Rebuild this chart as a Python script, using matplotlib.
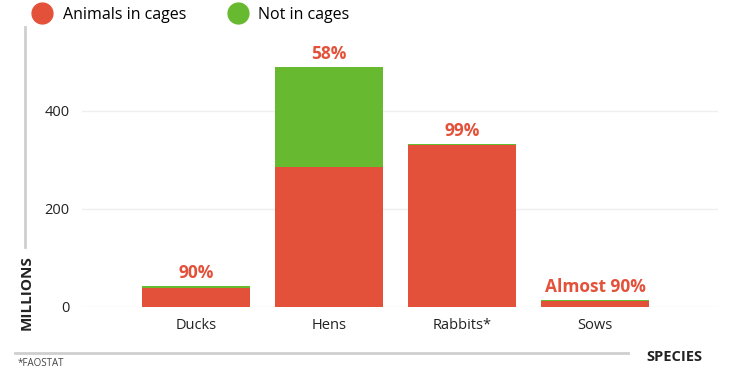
import matplotlib
matplotlib.use("Agg")
import matplotlib.pyplot as plt
from matplotlib.lines import Line2D

plt.rcParams['font.family'] = ['Open Sans', 'DejaVu Sans']

# data (millions)
species = ['Ducks', 'Hens', 'Rabbits*', 'Sows']
caged = [39, 285, 330, 12]
not_caged = [4, 205, 3, 2]
pct_labels = ['90%', '58%', '99%', 'Almost 90%']

red = '#e4513a'
green = '#67b930'
gray = '#cfcfcf'

fig = plt.figure(figsize=(7.3, 3.7), dpi=100)
ax = fig.add_axes([82/730, 63/370, 636/730, 260/370])

x = range(len(species))
ax.bar(x, caged, width=0.81, color=red, zorder=2)
ax.bar(x, not_caged, width=0.81, bottom=caged, color=green, zorder=2)

for i, lab in enumerate(pct_labels):
    total = caged[i] + not_caged[i]
    ax.text(i, total + 8, lab, ha='center', va='bottom', color=red,
            fontsize=12.5, fontweight='bold')

ax.set_xlim(-0.857, 3.925)
ax.set_ylim(0, 530)
ax.set_yticks([0, 200, 400])
ax.set_xticks(list(x))
ax.set_xticklabels(species)
ax.tick_params(axis='both', length=0, labelsize=10.5, colors='#222222')
ax.tick_params(axis='y', pad=9)
ax.tick_params(axis='x', pad=8)
ax.grid(axis='y', color='#efefef', linewidth=1, zorder=0)
for s in ax.spines.values():
    s.set_visible(False)

# axis titles
fig.text(27/730, 1 - 293/370, 'MILLIONS', rotation=90, ha='center', va='center',
         fontsize=11, fontweight='bold', color='#222222')
fig.text(674/730, 1 - 357/370, 'SPECIES', ha='center', va='center',
         fontsize=10.5, fontweight='bold', color='#222222')
fig.text(18/730, 1 - 364/370, '*FAOSTAT', ha='left', va='center',
         fontsize=7, color='#444444')

# frame lines
fig.add_artist(Line2D([25/730, 25/730], [1 - 27/370, 1 - 247/370],
                      color=gray, linewidth=2))
fig.add_artist(Line2D([15/730, 628/730], [1 - 353/370, 1 - 353/370],
                      color=gray, linewidth=2))

# legend
handles = [Line2D([], [], marker='o', linestyle='', markersize=15, color=red),
           Line2D([], [], marker='o', linestyle='', markersize=15, color=green)]
fig.legend(handles, ['Animals in cages', 'Not in cages'], loc='upper left',
           bbox_to_anchor=(12/730, 1.02), ncol=2, frameon=False,
           fontsize=11.5, handletextpad=0.3, columnspacing=2.2)

fig.savefig('out.png', dpi=100)
